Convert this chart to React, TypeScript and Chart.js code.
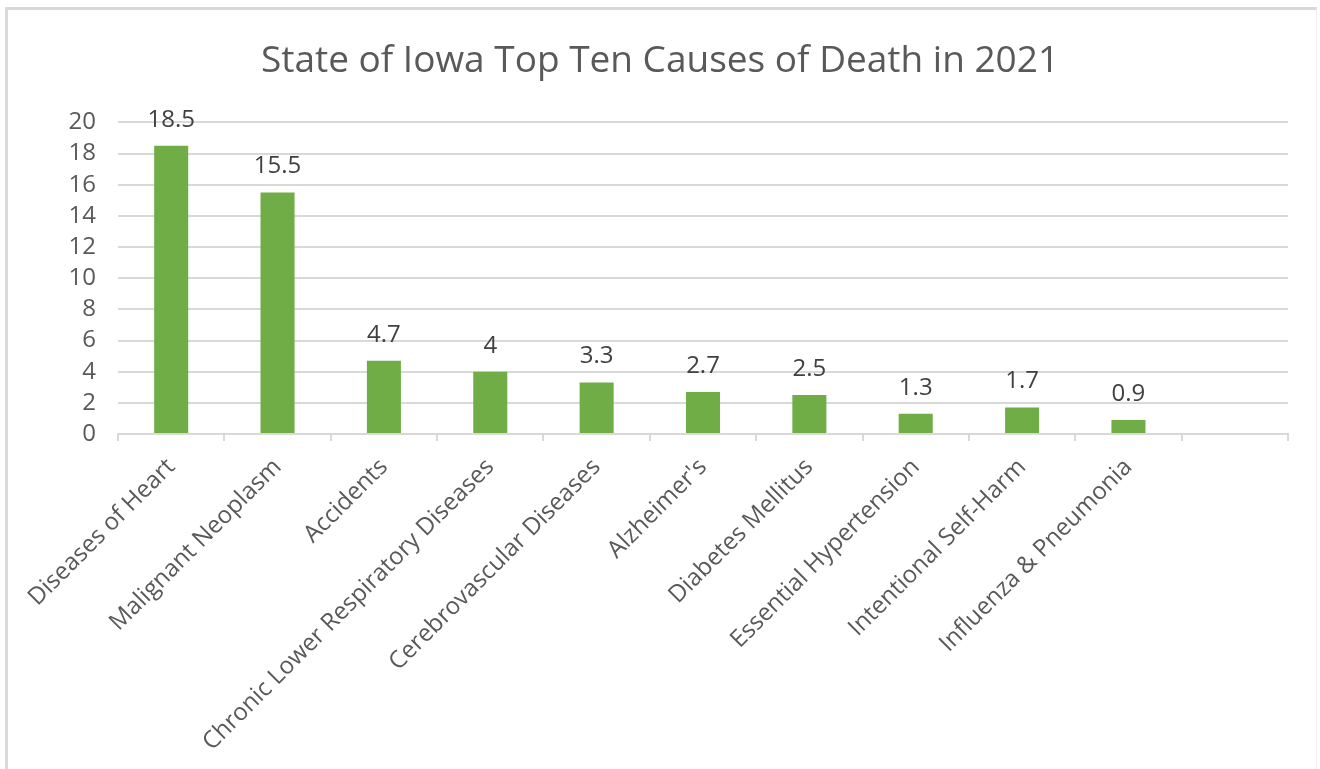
import React, { useEffect, useRef } from "react";
import { Chart, registerables } from "chart.js";

Chart.register(...registerables);

const title = "State of Iowa Top Ten Causes of Death in 2021";
const categories = [
  "Diseases of Heart",
  "Malignant Neoplasm",
  "Accidents",
  "Chronic Lower Respiratory Diseases",
  "Cerebrovascular Diseases",
  "Alzheimer's",
  "Diabetes Mellitus",
  "Essential Hypertension",
  "Intentional Self-Harm",
  "Influenza & Pneumonia",
  "",
];
const values: (number | null)[] = [18.5, 15.5, 4.7, 4, 3.3, 2.7, 2.5, 1.3, 1.7, 0.9, null];
const yTicks = [0, 2, 4, 6, 8, 10, 12, 14, 16, 18, 20];

const FONT = "'Open Sans', 'Liberation Sans', sans-serif";
const TEXT = "#595959";
const GRID = "#d9d9d9";

const dataLabels = {
  id: "dataLabels",
  afterDatasetsDraw(chart: any) {
    const ctx = chart.ctx;
    const meta = chart.getDatasetMeta(0);
    ctx.save();
    ctx.font = `24px ${FONT}`;
    ctx.fillStyle = "#404040";
    ctx.textAlign = "center";
    ctx.textBaseline = "bottom";
    meta.data.forEach((bar: any, i: number) => {
      const v = values[i];
      if (v === null || v === undefined) return;
      ctx.fillText(String(v), bar.x, bar.y - 14);
    });
    ctx.restore();
  },
};

export default function App() {
  const ref = useRef<HTMLCanvasElement>(null);
  useEffect(() => {
    if (!ref.current) return;
    const chart = new Chart(ref.current, {
      type: "bar",
      data: {
        labels: categories,
        datasets: [
          {
            data: values,
            backgroundColor: "#70ad47",
            borderWidth: 0,
            barPercentage: 0.64,
            categoryPercentage: 0.5,
          },
        ],
      },
      options: {
        animation: false,
        responsive: false,
        maintainAspectRatio: false,
        layout: { padding: 0 },
        plugins: {
          legend: { display: false },
          tooltip: { enabled: false },
          title: {
            display: true,
            text: title,
            color: TEXT,
            font: { family: FONT, size: 37, weight: "normal" },
            padding: { top: 39, bottom: 39 },
          },
        },
        scales: {
          x: {
            grid: {
              offset: true,
              drawOnChartArea: false,
              drawTicks: true,
              tickLength: 7,
              color: GRID,
              lineWidth: 2,
            },
            border: { display: true, color: GRID, width: 2 },
            ticks: {
              color: TEXT,
              font: { family: FONT, size: 24 },
              minRotation: 45,
              maxRotation: 45,
              autoSkip: false,
              padding: 12,
            },
            afterFit(scale: any) {
              scale.height = 335;
            },
          },
          y: {
            min: 0,
            max: 20,
            afterBuildTicks(scale: any) {
              scale.ticks = yTicks.map((v) => ({ value: v }));
            },
            grid: { color: GRID, lineWidth: 2, drawTicks: false },
            border: { display: false },
            ticks: {
              color: TEXT,
              font: { family: FONT, size: 24 },
              padding: 22,
              autoSkip: false,
            },
            afterFit(scale: any) {
              scale.width = 118;
            },
          },
          yRight: {
            position: "right",
            min: 0,
            max: 1,
            grid: { display: false, drawTicks: false },
            border: { display: false },
            ticks: { display: false },
            afterFit(scale: any) {
              scale.width = 32;
            },
          },
        },
      },
      plugins: [dataLabels],
    });
    return () => chart.destroy();
  }, []);
  return (
    <div style={{ position: "fixed", left: 0, top: 0, width: 1320, height: 769, background: "#fff" }}>
      <div
        style={{
          position: "absolute",
          left: 5,
          top: 7,
          width: 1312,
          height: 800,
          borderLeft: "3px solid #d9d9d9",
          borderTop: "3px solid #d9d9d9",
          borderRight: "1px solid #f0f0f0",
          boxSizing: "border-box",
        }}
      />
      <canvas ref={ref} width={1320} height={769} style={{ position: "absolute", left: 0, top: 0 }} />
    </div>
  );
}
